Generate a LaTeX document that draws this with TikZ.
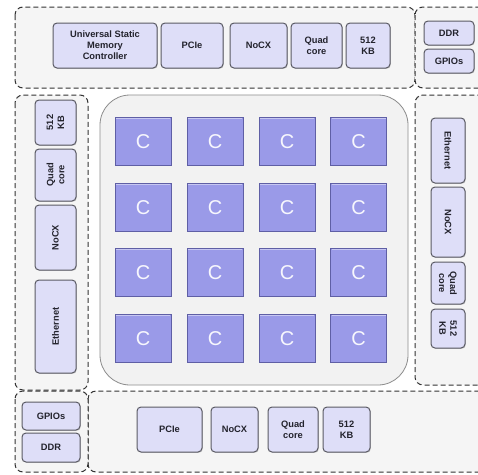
\documentclass[tikz,border=0pt]{standalone}
\usepackage{fontspec}
\setmainfont{Liberation Sans}
\usetikzlibrary{shadows}
\definecolor{regfill}{RGB}{245,245,245}
\definecolor{corefill}{RGB}{242,242,242}
\definecolor{boxfill}{RGB}{222,222,248}
\definecolor{boxline}{RGB}{90,90,100}
\definecolor{cfill}{RGB}{154,154,232}
\definecolor{cline}{RGB}{95,95,165}
\definecolor{txt}{RGB}{35,35,45}
\tikzset{
  region/.style={draw=black!80, line width=1pt, dash pattern=on 5pt off 3pt, fill=regfill, rounded corners=8pt},
  ubox/.style={draw=boxline, line width=1pt, fill=boxfill, rounded corners=4pt, inner sep=0pt,
     font=\fontsize{9.3}{11}\selectfont\bfseries, text=txt, align=center,
     drop shadow={shadow xshift=0.8pt, shadow yshift=-0.8pt, opacity=0.35}},
  cbox/.style={draw=cline, line width=1pt, fill=cfill, inner sep=0pt,
     minimum width=56pt, minimum height=48pt, font=\fontsize{20}{20}\selectfont, text=white!92!cfill},
}
\begin{document}
\begin{tikzpicture}[x=1pt,y=-1pt]
\useasboundingbox (0,0) rectangle (478,474);
\fill[white] (0,0) rectangle (478,474);
% regions
\draw[region] (15,7) rectangle (415,88);
\draw[region] (415,7) rectangle (500,88);
\draw[region] (15,95) rectangle (88,390);
\draw[region] (415,95) rectangle (500,385);
\draw[region] (88,391) rectangle (500,472);
\draw[region] (15,391) rectangle (88,472);
% core area
\draw[draw=black!45, line width=0.8pt, fill=corefill, rounded corners=30pt] (100,95) rectangle (408,385);
% top
\node[ubox, minimum width=104pt, minimum height=45pt] (usmc) at (105,45.5) {Universal Static\\Memory\\Controller};
\node[ubox, minimum width=62pt, minimum height=45pt] (pcieT) at (192,45.5) {PCIe};
\node[ubox, minimum width=57pt, minimum height=45pt] (nocxT) at (258.5,45.5) {NoCX};
\node[ubox, minimum width=51pt, minimum height=45pt] (quadT) at (316.5,45.5) {Quad\\core};
\node[ubox, minimum width=44pt, minimum height=45pt] (kbT) at (368,45.5) {512\\KB};
\node[ubox, minimum width=50pt, minimum height=24pt] (ddrT) at (449,33) {DDR};
\node[ubox, minimum width=50pt, minimum height=24pt] (gpioT) at (449,61) {GPIOs};
% left (rotated)
\node[ubox, rotate=90, minimum width=45pt, minimum height=41pt] (kbL) at (55.5,122.5) {512\\KB};
\node[ubox, rotate=90, minimum width=52pt, minimum height=41pt] (quadL) at (55.5,175) {Quad\\core};
\node[ubox, rotate=90, minimum width=65pt, minimum height=41pt] (nocxL) at (55.5,237.5) {NoCX};
\node[ubox, rotate=90, minimum width=93pt, minimum height=41pt] (ethL) at (55.5,326.5) {Ethernet};
% right (rotated)
\node[ubox, rotate=-90, minimum width=65pt, minimum height=34pt] (ethR) at (448,150.5) {Ethernet};
\node[ubox, rotate=-90, minimum width=70pt, minimum height=34pt] (nocxR) at (448,222) {NoCX};
\node[ubox, rotate=-90, minimum width=42pt, minimum height=34pt] (quadR) at (448,283) {Quad\\core};
\node[ubox, rotate=-90, minimum width=39pt, minimum height=34pt] (kbR) at (448,328.5) {512\\KB};
% bottom-left
\node[ubox, minimum width=58pt, minimum height=28pt] (gpioB) at (51,416) {GPIOs};
\node[ubox, minimum width=58pt, minimum height=29pt] (ddrB) at (51,447.5) {DDR};
% bottom
\node[ubox, minimum width=65pt, minimum height=45pt] (pcieB) at (169.5,429.5) {PCIe};
\node[ubox, minimum width=47pt, minimum height=45pt] (nocxB) at (234.5,429.5) {NoCX};
\node[ubox, minimum width=50pt, minimum height=45pt] (quadB) at (293,429.5) {Quad\\core};
\node[ubox, minimum width=47pt, minimum height=45pt] (kbB) at (346.5,429.5) {512\\KB};
% cores
\foreach \r/\y in {1/141.5,2/207.5,3/272.5,4/338.5}{
  \foreach \c/\x in {1/143,2/215,3/287,4/358.5}{
    \node[cbox] (c\r\c) at (\x,\y) {C};
    \draw[white, opacity=0.45, line width=1pt] ([xshift=1.5pt,yshift=-1.5pt]c\r\c.north west) -- ([xshift=-1.5pt,yshift=-1.5pt]c\r\c.north east);
  }
}
\end{tikzpicture}
\end{document}
